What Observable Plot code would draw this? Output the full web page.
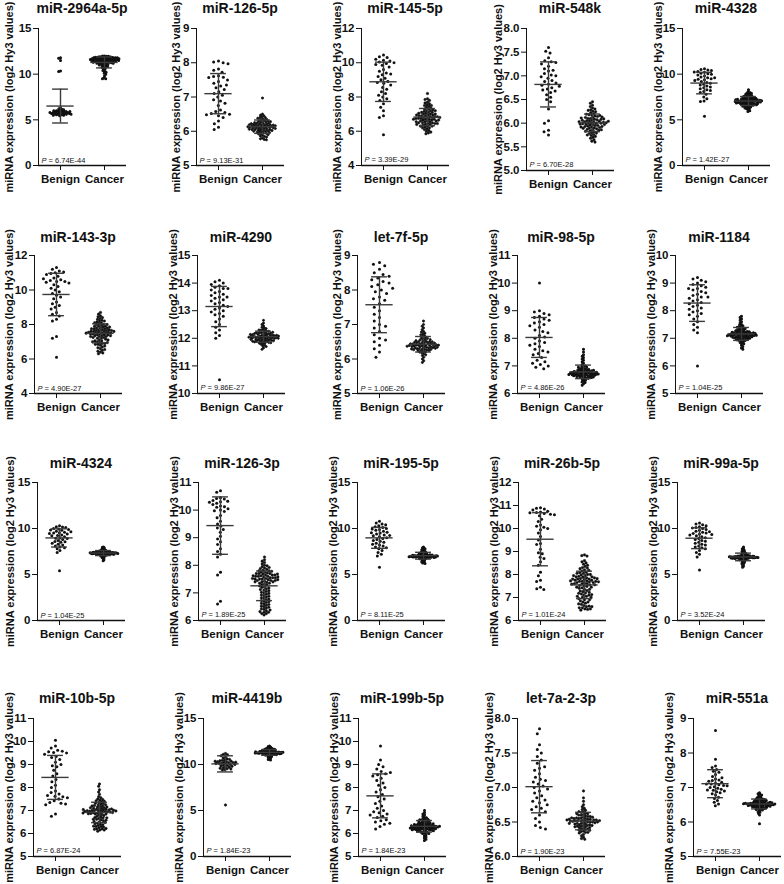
<!DOCTYPE html>
<html><head><meta charset="utf-8">
<script src="https://cdn.jsdelivr.net/npm/d3@7"></script>
<script src="https://cdn.jsdelivr.net/npm/@observablehq/plot@0.6"></script>
<style>
html,body{margin:0;padding:0;background:#fff;}
#root{position:relative;width:784px;height:884px;overflow:hidden;font-family:"Liberation Sans",Arial,sans-serif;}
.title{position:absolute;width:160px;text-align:center;font-weight:bold;font-size:14px;color:#111;line-height:16px;white-space:nowrap;}
.panel{position:absolute;}
.panel svg{overflow:visible;max-width:none;}
.panel g[aria-label="y-axis label"]{font-size:11px;}
</style></head><body><div id="root"></div>
<script>
// ---------- chart content ----------
const TITLES = ["miR-2964a-5p","miR-126-5p","miR-145-5p","miR-548k","miR-4328",
  "miR-143-3p","miR-4290","let-7f-5p","miR-98-5p","miR-1184",
  "miR-4324","miR-126-3p","miR-195-5p","miR-26b-5p","miR-99a-5p",
  "miR-10b-5p","miR-4419b","miR-199b-5p","let-7a-2-3p","miR-551a"];
const PVALUES = ["6.74E-44","9.13E-31","3.39E-29","6.70E-28","1.42E-27",
  "4.90E-27","9.86E-27","1.06E-26","4.86E-26","1.04E-25",
  "1.04E-25","1.89E-25","8.11E-25","1.01E-24","3.52E-24",
  "6.87E-24","1.84E-23","1.84E-23","1.90E-23","7.55E-23"];
const Y_DOMAINS = [[0,15],[5,9],[4,12],[5,8],[0,15],
  [4,12],[10,15],[5,9],[6,11],[5,10],
  [0,15],[6,11],[0,15],[6,12],[0,15],
  [5,11],[0,15],[5,11],[6,8],[5,9]];
const Y_TICKS = [[0,5,10,15],[5,6,7,8,9],[4,6,8,10,12],[5,5.5,6,6.5,7,7.5,8],[0,5,10,15],
  [4,6,8,10,12],[10,11,12,13,14,15],[5,6,7,8,9],[6,7,8,9,10,11],[5,6,7,8,9,10],
  [0,5,10,15],[6,7,8,9,10,11],[0,5,10,15],[6,7,8,9,10,11,12],[0,5,10,15],
  [5,6,7,8,9,10,11],[0,5,10,15],[5,6,7,8,9,10,11],[6,6.5,7,7.5,8],[5,6,7,8,9]];
const GROUPS = ["Benign","Cancer"];
const Y_LABEL = "miRNA expression (log2 Hy3 values)";

// ---------- values (log2 Hy3) ----------
const B_2964a = [11.8,11.75,11.5,10.35,10.3,6.3,6.2,6.15,6.1,6.05,6.0,6.0,5.95,5.9,5.9,5.85,5.85,5.8,5.8,5.8,5.75,5.75,5.7,5.7,5.7,5.65,5.65,5.6,5.6,5.6,5.55,5.55,5.5,5.5,5.45,5.8,5.9,6.0];
const C_2964a = [12.0,12.0,11.95,11.95,11.9,11.9,11.9,11.85,11.85,11.85,11.8,11.8,11.8,11.8,11.75,11.75,11.75,11.7,11.7,11.7,11.7,11.65,11.65,11.65,11.6,11.6,11.6,11.6,11.55,11.55,11.55,11.5,11.5,11.5,11.5,11.45,11.45,11.45,11.4,11.4,11.4,11.35,11.35,11.3,11.3,11.3,11.25,11.25,11.2,11.2,11.15,11.1,11.1,11.05,11.0,11.0,10.95,10.9,10.85,10.8,10.75,10.7,10.6,10.5,10.4,10.3,10.2,10.1,10.0,9.8,9.6,9.5,9.5,11.6,11.5,11.4,11.3,11.2,11.7,11.8];
const B_126_5p = [8.05,8.02,8.0,7.97,7.82,7.78,7.72,7.62,7.6,7.58,7.57,7.5,7.45,7.4,7.32,7.27,7.22,7.15,7.1,7.05,7.0,6.92,6.88,6.82,6.75,6.62,6.58,6.55,6.52,6.5,6.48,6.45,6.4,6.3,6.22,6.12,6.05,7.35];
const C_126_5p = [6.97,6.5,6.47,6.45,6.42,6.4,6.4,6.38,6.36,6.35,6.33,6.32,6.3,6.3,6.28,6.27,6.25,6.25,6.24,6.22,6.21,6.2,6.2,6.19,6.18,6.17,6.16,6.15,6.15,6.14,6.13,6.12,6.12,6.11,6.1,6.1,6.09,6.08,6.07,6.06,6.05,6.05,6.04,6.03,6.02,6.01,6.0,6.0,5.99,5.98,5.97,5.96,5.95,5.94,5.93,5.92,5.9,5.88,5.86,5.85,5.83,5.8,5.78,5.76,5.75,6.2,6.15,6.1,6.05,6.25,6.18,6.12,6.08,6.22,6.16,6.02,6.28,6.13,6.06,6.19];
const B_145 = [10.45,10.35,10.3,10.2,10.15,10.1,10.05,10.0,9.95,9.9,9.85,9.75,9.6,9.5,9.4,9.3,9.2,9.1,9.0,8.9,8.85,8.8,8.7,8.55,8.45,8.3,8.2,8.1,8.0,7.9,7.8,7.6,7.4,7.2,6.9,6.8,5.8,9.35];
const C_145 = [8.2,7.9,7.85,7.8,7.7,7.65,7.6,7.55,7.5,7.5,7.45,7.4,7.35,7.3,7.3,7.25,7.2,7.2,7.15,7.1,7.1,7.05,7.0,7.0,6.95,6.95,6.9,6.9,6.85,6.85,6.8,6.8,6.8,6.75,6.75,6.7,6.7,6.7,6.65,6.65,6.6,6.6,6.55,6.55,6.5,6.5,6.45,6.45,6.4,6.4,6.35,6.3,6.3,6.25,6.2,6.15,6.1,6.05,6.0,5.95,5.9,5.85,6.9,6.85,6.75,6.6,6.5,7.0,7.1,6.95,6.8,6.65,6.45,6.55,7.05,6.7,6.4,6.3,7.2,6.2];
const B_548k = [7.6,7.52,7.48,7.38,7.32,7.3,7.28,7.25,7.2,7.15,7.1,7.05,7.02,7.0,6.98,6.95,6.9,6.88,6.85,6.82,6.8,6.78,6.75,6.72,6.7,6.68,6.65,6.6,6.55,6.5,6.45,6.3,6.05,6.0,5.85,5.82,5.75,7.12];
const C_548k = [6.45,6.42,6.38,6.35,6.32,6.3,6.28,6.25,6.22,6.2,6.18,6.17,6.15,6.14,6.12,6.1,6.1,6.08,6.07,6.06,6.05,6.05,6.04,6.03,6.02,6.01,6.0,6.0,6.0,5.99,5.98,5.97,5.96,5.95,5.95,5.94,5.93,5.92,5.91,5.9,5.9,5.88,5.87,5.86,5.85,5.84,5.82,5.8,5.78,5.76,5.74,5.72,5.7,5.68,5.65,5.62,5.6,6.02,6.08,6.12,6.16,5.98,5.93,5.89,6.03,6.13,6.19,6.24,5.83,5.79,6.06,5.97,6.01,6.11,5.92,6.09,6.27,5.86,5.75,6.04];
const B_4328 = [10.6,10.5,10.45,10.4,10.3,10.25,10.2,10.1,10.05,10.0,9.9,9.8,9.7,9.6,9.5,9.45,9.4,9.3,9.2,9.1,9.0,8.9,8.8,8.7,8.6,8.5,8.4,8.3,8.2,8.1,8.0,7.8,7.5,7.3,7.05,7.0,5.4,9.6];
const C_4328 = [8.3,8.1,8.0,7.95,7.9,7.85,7.8,7.75,7.7,7.65,7.6,7.6,7.55,7.5,7.5,7.45,7.4,7.4,7.35,7.3,7.3,7.25,7.25,7.2,7.2,7.15,7.15,7.1,7.1,7.1,7.05,7.05,7.0,7.0,7.0,6.95,6.95,6.9,6.9,6.85,6.85,6.8,6.8,6.75,6.75,6.7,6.7,6.65,6.6,6.6,6.55,6.5,6.5,6.45,6.4,6.35,6.3,6.25,6.2,6.1,6.0,5.9,7.1,7.2,7.0,6.9,7.3,7.05,6.95,7.15,7.25,6.85,7.35,6.75,7.45,6.65,7.0,7.1,6.8,7.2];
const B_143 = [11.3,11.2,11.1,11.05,11.0,10.95,10.9,10.8,10.7,10.6,10.55,10.5,10.5,10.45,10.4,10.3,10.2,10.1,10.0,9.9,9.8,9.7,9.6,9.5,9.3,9.2,9.1,9.0,8.9,8.7,8.6,8.5,8.3,8.2,7.3,7.2,6.1,10.65];
const C_143 = [8.7,8.6,8.5,8.45,8.4,8.35,8.3,8.25,8.2,8.2,8.15,8.1,8.05,8.0,8.0,7.95,7.9,7.9,7.85,7.8,7.8,7.75,7.75,7.7,7.7,7.65,7.65,7.6,7.6,7.6,7.55,7.55,7.5,7.5,7.5,7.45,7.45,7.4,7.4,7.35,7.35,7.3,7.3,7.25,7.2,7.2,7.15,7.1,7.05,7.0,6.95,6.9,6.85,6.8,6.7,6.6,6.5,6.4,6.35,6.3,7.6,7.7,7.5,7.4,7.8,7.65,7.55,7.45,7.9,7.35,7.25,8.0,7.75,7.3,7.6,7.5,6.9,7.05,8.1,7.85,6.75,6.95,7.1,7.0,6.85,6.65,6.55,6.45];
const B_4290 = [14.1,14.05,14.0,13.95,13.9,13.85,13.8,13.75,13.7,13.65,13.6,13.55,13.5,13.45,13.4,13.35,13.3,13.25,13.2,13.15,13.1,13.05,13.0,12.95,12.9,12.85,12.8,12.7,12.6,12.5,12.4,12.3,12.2,12.1,12.0,10.5,13.5,13.8];
const C_4290 = [12.65,12.55,12.5,12.45,12.4,12.38,12.35,12.32,12.3,12.28,12.25,12.22,12.2,12.2,12.18,12.15,12.15,12.12,12.1,12.1,12.08,12.06,12.05,12.05,12.04,12.02,12.0,12.0,11.98,11.96,11.95,11.94,11.92,11.9,11.9,11.88,11.86,11.85,11.83,11.8,11.78,11.75,11.72,11.7,11.65,11.6,12.1,12.0,12.05,12.15,11.95,12.2,11.9,12.25,12.03,12.07,11.97,12.12,11.93,12.17,12.01,11.99,12.09,11.87,12.3,12.13,11.82,12.02,12.06,11.91,12.19,12.11,11.96,12.04,12.08,11.89,12.22,12.0,11.84,12.14];
const B_let7f = [8.8,8.75,8.7,8.6,8.5,8.45,8.4,8.35,8.3,8.25,8.2,8.15,8.1,8.0,7.95,7.9,7.8,7.75,7.7,7.6,7.5,7.4,7.3,7.2,7.1,7.0,6.95,6.9,6.8,6.7,6.6,6.55,6.5,6.4,6.3,6.2,6.05,8.05];
const C_let7f = [7.1,7.0,6.95,6.9,6.85,6.8,6.78,6.75,6.72,6.7,6.68,6.65,6.62,6.6,6.58,6.55,6.55,6.52,6.5,6.5,6.48,6.46,6.45,6.44,6.42,6.4,6.4,6.4,6.38,6.36,6.35,6.34,6.32,6.3,6.3,6.28,6.26,6.25,6.22,6.2,6.18,6.15,6.12,6.1,6.05,6.0,5.95,5.9,6.4,6.35,6.45,6.3,6.5,6.25,6.42,6.38,6.33,6.47,6.28,6.53,6.37,6.43,6.2,6.6,6.32,6.41,6.36,6.48,6.27,6.44,6.39,6.31,6.56,6.24,6.46,6.34,6.4,6.5,6.29,6.37];
const B_98 = [10.0,9.0,8.95,8.9,8.85,8.8,8.75,8.7,8.6,8.55,8.5,8.45,8.4,8.3,8.25,8.2,8.1,8.05,8.0,7.9,7.85,7.8,7.7,7.6,7.55,7.5,7.45,7.4,7.3,7.2,7.15,7.1,7.05,7.0,6.95,6.9,8.65,7.75];
const C_98 = [7.6,7.5,7.4,7.35,7.3,7.25,7.2,7.15,7.1,7.05,7.0,7.0,6.97,6.95,6.92,6.9,6.88,6.86,6.85,6.83,6.82,6.8,6.8,6.78,6.77,6.76,6.75,6.74,6.73,6.72,6.71,6.7,6.7,6.69,6.68,6.67,6.66,6.65,6.64,6.63,6.62,6.6,6.6,6.58,6.56,6.55,6.53,6.5,6.48,6.45,6.42,6.4,6.35,6.3,6.75,6.7,6.8,6.65,6.85,6.72,6.78,6.68,6.9,6.62,6.74,6.82,6.66,6.76,6.95,6.58,6.7,6.8,6.73,6.64,6.87,6.6,6.77,6.69,6.84,6.71];
const B_1184 = [9.2,9.15,9.1,9.05,9.0,8.95,8.9,8.85,8.8,8.75,8.7,8.65,8.6,8.55,8.5,8.45,8.4,8.35,8.3,8.25,8.2,8.15,8.1,8.05,8.0,7.95,7.9,7.85,7.8,7.7,7.6,7.5,7.4,7.3,7.2,6.0,8.5,8.8];
const C_1184 = [7.8,7.75,7.7,7.65,7.6,7.55,7.5,7.48,7.45,7.42,7.4,7.38,7.35,7.33,7.3,7.28,7.26,7.25,7.23,7.22,7.2,7.2,7.18,7.17,7.16,7.15,7.14,7.13,7.12,7.1,7.1,7.08,7.07,7.06,7.05,7.04,7.02,7.0,7.0,6.98,6.96,6.95,6.93,6.9,6.88,6.85,6.82,6.8,6.75,6.7,6.65,6.6,7.15,7.1,7.2,7.05,7.25,7.12,7.18,7.08,7.3,7.02,7.14,7.22,7.06,7.16,7.35,6.98,7.1,7.2,7.13,7.04,7.27,7.0,7.17,7.09,7.24,7.11,6.92,7.4];
const B_4324 = [10.3,10.2,10.15,10.1,10.0,9.95,9.9,9.85,9.8,9.7,9.6,9.55,9.5,9.4,9.3,9.25,9.2,9.1,9.0,8.95,8.9,8.8,8.7,8.6,8.55,8.5,8.4,8.3,8.2,8.1,8.0,7.9,7.8,7.6,7.4,5.4,9.45,9.65];
const C_4324 = [8.0,7.95,7.9,7.85,7.8,7.75,7.7,7.68,7.65,7.62,7.6,7.58,7.55,7.52,7.5,7.48,7.46,7.45,7.43,7.42,7.4,7.4,7.38,7.37,7.36,7.35,7.34,7.33,7.32,7.3,7.3,7.28,7.27,7.26,7.25,7.24,7.22,7.2,7.2,7.18,7.16,7.15,7.13,7.1,7.08,7.05,7.02,7.0,6.95,6.9,6.85,6.8,6.7,6.6,6.5,7.35,7.3,7.4,7.25,7.45,7.32,7.38,7.28,7.5,7.22,7.34,7.42,7.26,7.36,7.55,7.18,7.3,7.4,7.33,7.24,7.47,7.2,7.37,7.29,7.44];
const B_126_3p = [10.7,10.65,10.45,10.42,10.4,10.35,10.32,10.3,10.28,10.25,10.15,10.12,10.1,10.05,10.0,9.98,9.95,9.8,9.72,9.6,9.5,9.42,9.35,9.3,9.2,9.05,8.95,8.85,8.75,8.6,8.5,8.4,8.3,7.75,7.65,6.7,6.6,10.2];
const C_126_3p = [8.3,8.2,8.15,8.1,8.05,8.0,7.98,7.95,7.92,7.9,7.88,7.85,7.82,7.8,7.8,7.78,7.75,7.75,7.72,7.7,7.7,7.68,7.65,7.65,7.62,7.6,7.6,7.58,7.55,7.55,7.52,7.5,7.5,7.48,7.45,7.45,7.42,7.4,7.4,7.38,7.35,7.32,7.3,7.28,7.25,7.22,7.2,7.15,7.1,7.05,7.0,6.95,6.9,6.85,6.8,6.75,6.7,6.65,6.6,6.55,6.5,6.45,6.4,6.35,6.3,6.25,6.2,7.6,7.5,7.7,7.45,7.55,7.65,7.35,7.4,7.62,7.52,7.58,7.48,7.68,
  6.25,6.3,6.32,6.38,6.42,6.48,6.52,6.58,6.62,6.68,6.72,6.78,6.82,6.88,6.92,6.98,7.02,7.08,7.12,7.18];
const B_195 = [10.8,10.6,10.5,10.4,10.3,10.2,10.1,10.0,9.95,9.9,9.8,9.7,9.6,9.5,9.4,9.3,9.2,9.1,9.0,8.9,8.8,8.7,8.6,8.5,8.4,8.3,8.2,8.1,8.0,7.9,7.8,7.6,7.4,7.2,7.0,5.8,9.55,9.25];
const C_195 = [8.0,7.9,7.85,7.8,7.75,7.7,7.65,7.6,7.55,7.5,7.48,7.45,7.4,7.38,7.35,7.3,7.28,7.25,7.22,7.2,7.18,7.15,7.12,7.1,7.1,7.08,7.05,7.05,7.02,7.0,7.0,6.98,6.95,6.95,6.92,6.9,6.9,6.88,6.85,6.82,6.8,6.78,6.75,6.72,6.7,6.65,6.6,6.55,6.5,6.45,6.4,6.35,6.3,6.25,6.2,7.0,6.95,7.05,6.9,7.1,6.97,7.03,6.93,7.15,6.87,6.99,7.07,6.91,7.01,7.2,6.85,6.96,7.04,6.98,6.89,7.12,6.86,7.02,6.94,7.09];
const B_26b = [10.9,10.88,10.85,10.8,10.75,10.72,10.7,10.68,10.65,10.62,10.6,10.55,10.4,10.3,10.15,10.1,10.05,9.95,9.8,9.65,9.5,9.35,9.3,9.1,8.95,8.9,8.75,8.7,8.55,8.4,8.1,7.95,7.75,7.7,7.45,7.38,7.35,10.0];
const C_26b = [8.85,8.82,8.8,8.6,8.55,8.5,8.45,8.4,8.35,8.3,8.28,8.25,8.2,8.18,8.15,8.1,8.08,8.05,8.0,8.0,7.98,7.95,7.92,7.9,7.88,7.85,7.82,7.8,7.8,7.78,7.75,7.72,7.7,7.7,7.68,7.65,7.62,7.6,7.58,7.55,7.52,7.5,7.48,7.45,7.42,7.4,7.35,7.3,7.25,7.2,7.15,7.1,7.05,7.0,6.9,6.8,6.75,6.65,6.6,6.55,6.5,6.48,6.45,7.75,7.85,7.65,7.9,7.6,7.7,7.8,7.55,7.95,7.45,8.05,7.35,7.72,7.68,7.82,7.58,7.1,
  6.5,6.55,6.6,6.62,6.7,6.72,6.8,6.85,6.9,6.95,7.0,7.05,7.12,7.18,7.22,7.28];
const B_99a = [10.6,10.5,10.4,10.3,10.2,10.1,10.05,10.0,9.9,9.8,9.7,9.6,9.5,9.45,9.4,9.3,9.2,9.1,9.0,8.9,8.8,8.7,8.6,8.5,8.4,8.3,8.2,8.1,8.0,7.9,7.8,7.6,7.4,7.2,6.9,5.5,9.65,9.35];
const C_99a = [8.0,7.85,7.8,7.7,7.65,7.6,7.55,7.5,7.45,7.4,7.35,7.3,7.28,7.25,7.2,7.18,7.15,7.1,7.08,7.05,7.02,7.0,7.0,6.98,6.95,6.95,6.92,6.9,6.9,6.88,6.85,6.85,6.82,6.8,6.8,6.78,6.75,6.72,6.7,6.68,6.65,6.62,6.6,6.55,6.5,6.45,6.4,6.35,6.3,6.25,6.2,6.1,6.0,5.9,5.8,6.9,6.85,6.95,6.8,7.0,6.87,6.93,6.83,7.05,6.77,6.89,6.97,6.81,6.91,7.1,6.75,6.86,6.94,6.88,6.79,7.02,6.76,6.92,6.84,6.99];
const B_10b = [10.05,9.8,9.72,9.62,9.58,9.55,9.52,9.5,9.45,9.35,9.3,9.22,9.1,8.95,8.9,8.75,8.6,8.5,8.35,8.25,8.1,8.0,7.85,7.78,7.72,7.65,7.62,7.6,7.55,7.5,7.42,7.35,7.32,7.28,7.25,6.85,6.75,9.0];
const C_10b = [8.15,8.05,7.9,7.8,7.7,7.6,7.55,7.5,7.48,7.45,7.42,7.4,7.38,7.35,7.32,7.3,7.28,7.25,7.22,7.2,7.18,7.15,7.12,7.1,7.08,7.05,7.02,7.0,7.0,6.98,6.95,6.92,6.9,6.88,6.85,6.82,6.8,6.78,6.75,6.72,6.7,6.68,6.65,6.62,6.6,6.55,6.5,6.45,6.4,6.35,6.3,6.25,6.2,6.15,6.1,7.0,6.95,7.05,6.9,7.1,6.97,7.03,6.93,7.15,6.87,6.99,7.07,6.91,7.01,7.2,6.85,6.96,7.04,6.98,6.89,7.12,6.86,7.25,6.3,6.2,
  6.15,6.18,6.22,6.28,6.32,6.38,6.42,6.48,6.52,6.58,6.62,6.68];
const B_4419b = [11.2,11.1,11.05,10.95,10.8,10.7,10.6,10.55,10.5,10.45,10.4,10.35,10.3,10.3,10.25,10.2,10.2,10.15,10.1,10.1,10.05,10.0,10.0,9.95,9.9,9.85,9.8,9.75,9.7,9.65,9.6,9.55,9.5,9.45,9.4,5.6,10.25,10.35];
const C_4419b = [12.0,11.95,11.9,11.85,11.8,11.78,11.75,11.72,11.7,11.68,11.65,11.62,11.6,11.58,11.55,11.52,11.5,11.5,11.48,11.45,11.42,11.4,11.4,11.38,11.35,11.33,11.3,11.3,11.28,11.25,11.22,11.2,11.2,11.18,11.15,11.12,11.1,11.08,11.05,11.02,11.0,10.95,10.9,10.85,10.8,10.75,10.7,10.6,10.55,10.5,11.3,11.25,11.35,11.2,11.4,11.27,11.33,11.23,11.45,11.17,11.29,11.37,11.21,11.31,11.5,11.15,11.26,11.34,11.28,11.19,11.42,11.16,11.32,11.24,11.39,11.6,11.1,11.55,11.05,11.65];
const B_199b = [9.8,9.2,9.0,8.9,8.8,8.7,8.6,8.55,8.5,8.4,8.3,8.2,8.1,8.0,7.9,7.8,7.7,7.6,7.5,7.4,7.3,7.2,7.1,7.0,6.95,6.9,6.85,6.8,6.75,6.7,6.6,6.55,6.5,6.45,6.4,6.3,6.2,8.65];
const C_199b = [7.0,6.9,6.85,6.8,6.75,6.7,6.68,6.65,6.62,6.6,6.58,6.55,6.52,6.5,6.48,6.46,6.44,6.42,6.4,6.4,6.38,6.36,6.35,6.34,6.32,6.3,6.3,6.28,6.26,6.25,6.24,6.22,6.2,6.2,6.18,6.16,6.15,6.13,6.1,6.08,6.05,6.02,6.0,5.95,5.9,5.85,5.8,5.75,5.7,6.3,6.25,6.35,6.2,6.4,6.27,6.33,6.23,6.45,6.17,6.29,6.37,6.21,6.31,6.5,6.15,6.26,6.34,6.28,6.19,6.42,6.16,6.32,6.24,6.39,6.1,6.55,6.05,6.6,6.0,6.12];
const B_let7a = [7.85,7.78,7.62,7.55,7.5,7.45,7.4,7.35,7.28,7.25,7.2,7.15,7.12,7.1,7.08,7.05,7.02,7.0,6.98,6.95,6.92,6.88,6.85,6.82,6.8,6.78,6.75,6.72,6.7,6.68,6.65,6.6,6.55,6.5,6.45,6.42,6.4,7.3];
const C_let7a = [6.95,6.85,6.8,6.75,6.72,6.7,6.68,6.67,6.65,6.64,6.63,6.62,6.61,6.6,6.59,6.58,6.57,6.56,6.55,6.55,6.54,6.53,6.52,6.52,6.51,6.5,6.5,6.49,6.48,6.47,6.46,6.45,6.45,6.44,6.43,6.42,6.41,6.4,6.39,6.38,6.37,6.36,6.35,6.34,6.32,6.3,6.28,6.26,6.25,6.52,6.5,6.54,6.48,6.56,6.51,6.53,6.49,6.58,6.47,6.51,6.55,6.46,6.53,6.6,6.44,6.5,6.54,6.52,6.45,6.57,6.43,6.53,6.48,6.56,6.4,6.62,6.38,6.65,6.35,6.42];
const B_551a = [8.65,7.82,7.62,7.58,7.52,7.47,7.44,7.38,7.32,7.25,7.22,7.2,7.18,7.15,7.12,7.1,7.1,7.08,7.06,7.05,7.02,7.0,6.98,6.95,6.93,6.92,6.9,6.88,6.85,6.82,6.78,6.72,6.68,6.62,6.57,6.52,6.47,7.28];
const C_551a = [6.85,6.82,6.8,6.78,6.76,6.74,6.72,6.7,6.69,6.68,6.67,6.66,6.65,6.64,6.63,6.62,6.61,6.6,6.59,6.58,6.57,6.56,6.55,6.55,6.54,6.53,6.52,6.52,6.51,6.5,6.5,6.49,6.48,6.47,6.46,6.45,6.44,6.43,6.42,6.41,6.4,6.39,6.38,6.37,6.36,6.35,6.33,6.3,6.28,6.25,6.2,5.95,6.52,6.5,6.54,6.48,6.56,6.51,6.53,6.49,6.58,6.47,6.51,6.55,6.46,6.53,6.6,6.44,6.5,6.54,6.52,6.45,6.57,6.43,6.53,6.48,6.56,6.62,6.4,6.65];

const BENIGN = [B_2964a,B_126_5p,B_145,B_548k,B_4328,B_143,B_4290,B_let7f,B_98,B_1184,B_4324,B_126_3p,B_195,B_26b,B_99a,B_10b,B_4419b,B_199b,B_let7a,B_551a];
const CANCER = [C_2964a,C_126_5p,C_145,C_548k,C_4328,C_143,C_4290,C_let7f,C_98,C_1184,C_4324,C_126_3p,C_195,C_26b,C_99a,C_10b,C_4419b,C_199b,C_let7a,C_551a];

// ---------- layout (pixels) ----------
const AX = [38,196,361,526,682, 34,197,357,517,675, 37,198,357,518,677, 33,203,358,517,693];
const GAP = [33,24,24,30,25, 29,25,24,25,25, 31,25,25,23,25, 28,25,25,32,28];
const ROW_TOP = [28,255,482,718];
const ROW_BOT = [165,393,620,856];
const BOT_FIX = {3: 170};
const TITLE_Y = [8,237,463,698];
const FW = 88, MR = 8, MT = 8, MB = 30;
const TICK_FONT = 11.5;
const DOT_R = 1.5;
const SPREAD = {Benign: 24, Cancer: 30};

const root = document.getElementById("root");

for (let i = 0; i < 20; i++) {
  const row = Math.floor(i / 5);
  const ax = AX[i], top = ROW_TOP[row], bot = BOT_FIX[i] ?? ROW_BOT[row];
  const [lo, hi] = Y_DOMAINS[i];
  const fmt = (hi - lo) <= 3 ? d3.format(".1f") : d3.format("d");
  // keep the rotated axis title clear of the widest tick label
  const tickW = d3.max(Y_TICKS[i], t => { const s = fmt(t); return s.replace(".", "").length * 0.556 * TICK_FONT + (s.includes(".") ? 0.278 * TICK_FONT : 0); });
  const gap = Math.max(GAP[i], tickW + 7 + 9);
  const ML = gap + 8;
  const ppu = (bot - top) / (hi - lo);
  const sets = {Benign: BENIGN[i], Cancer: CANCER[i]};
  const rows = GROUPS.flatMap(g => sets[g].map(v => ({group: g, v})));
  const stats = GROUPS.map(g => {
    const m = d3.mean(sets[g]), s = d3.deviation(sets[g]);
    return {group: g, mean: m, lo: m - s, hi: m + s};
  });
  const dotMark = g => {
    const vs = sets[g];
    const W = SPREAD[g];
    const iqr = (d3.quantile(vs, 0.75) - d3.quantile(vs, 0.25)) * ppu;
    const dIqr = Math.sqrt(W * iqr / (0.5 * vs.length * 1.2));
    const px = vs.map(v => v * ppu);
    let m = 1;
    for (const a of px) { let c = 0; for (const b of px) if (Math.abs(a - b) <= 5) c++; if (c > m) m = c; }
    const dLocal = Math.sqrt(8.2 * W / m);
    const d = Math.max(1.2, Math.min(6.5, dIqr, dLocal));
    const big = d >= 2 * DOT_R;
    const r = big ? DOT_R : d / 2;
    const pad = big ? d - 2 * DOT_R : 0;
    const sw = big ? 0 : 2 * DOT_R - d;
    return Plot.dot(rows.filter(x => x.group === g),
      Plot.dodgeX({anchor: "middle", padding: pad}, {fx: "group", y: "v", r, fill: "#111", stroke: "#111", strokeWidth: sw}));
  };
  const barStyle = {stroke: "#3a3a3a", strokeWidth: 1.4};
  const pRow = [{group: "Benign"}];

  const svg = Plot.plot({
    width: ML + FW + MR,
    height: MT + (bot - top) + MB,
    marginLeft: ML, marginRight: MR, marginTop: MT, marginBottom: MB,
    style: {fontFamily: "'Liberation Sans', Arial, sans-serif", fontSize: TICK_FONT + "px", fontWeight: "bold", color: "#111", background: "transparent", overflow: "visible"},
    x: {domain: [-1, 1], axis: null},
    y: {domain: [lo, hi], ticks: Y_TICKS[i], tickFormat: fmt, tickSize: 5, tickPadding: 2, line: true,
        label: Y_LABEL, labelAnchor: "center", labelOffset: gap, labelArrow: "none"},
    fx: {domain: GROUPS, padding: 0, axis: "bottom", label: null, tickSize: 5, tickPadding: 4},
    marks: [
      Plot.ruleY([lo], {stroke: "#111", strokeWidth: 1.3}),
      dotMark("Benign"),
      dotMark("Cancer"),
      Plot.ruleY(stats, {fx: "group", y: "mean", x1: -0.62, x2: 0.62, ...barStyle}),
      Plot.ruleY(stats, {fx: "group", y: "lo", x1: -0.36, x2: 0.36, ...barStyle}),
      Plot.ruleY(stats, {fx: "group", y: "hi", x1: -0.36, x2: 0.36, ...barStyle}),
      Plot.ruleX(stats, {fx: "group", x: 0, y1: "lo", y2: "hi", ...barStyle}),
      Plot.text(pRow, {fx: "group", frameAnchor: "bottom-left", text: () => "P", dx: 3, dy: -3, lineAnchor: "bottom", textAnchor: "start", fontSize: 7.5, fontWeight: "normal", fontStyle: "italic", fill: "#111"}),
      Plot.text(pRow, {fx: "group", frameAnchor: "bottom-left", text: () => "= " + PVALUES[i], dx: 10, dy: -3, lineAnchor: "bottom", textAnchor: "start", fontSize: 7.5, fontWeight: "normal", fill: "#111"})
    ]
  });

  const panel = document.createElement("div");
  panel.className = "panel";
  panel.style.left = (ax - ML) + "px";
  panel.style.top = (top - MT) + "px";
  panel.appendChild(svg);
  root.appendChild(panel);

  const t = document.createElement("div");
  t.className = "title";
  t.textContent = TITLES[i];
  t.style.left = (ax + FW / 2 - 80) + "px";
  t.style.top = (TITLE_Y[row] - 8) + "px";
  root.appendChild(t);
}
</script>
</body></html>
